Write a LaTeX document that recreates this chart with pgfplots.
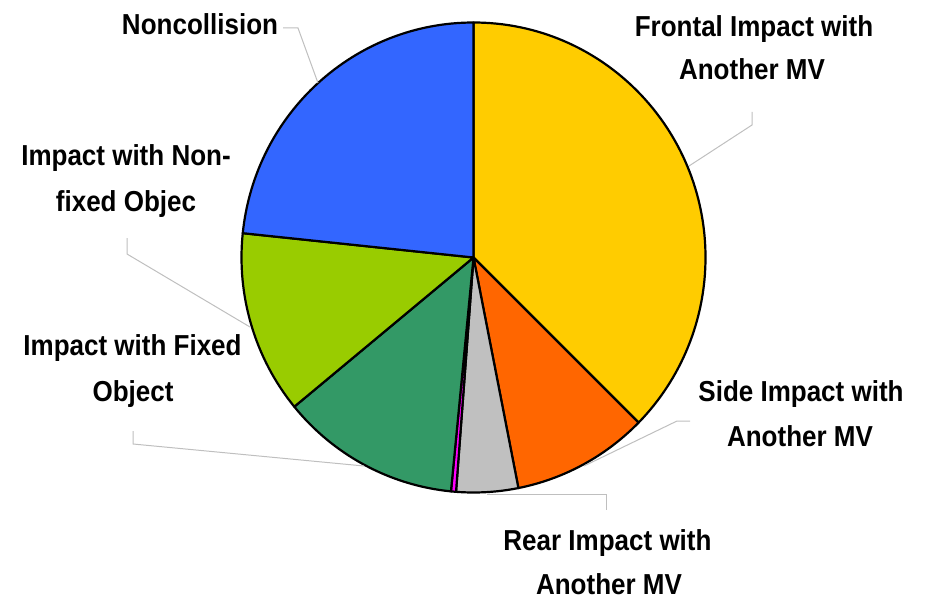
\documentclass[border=0pt]{standalone}
\usepackage{fontspec}
\setmainfont{Liberation Sans}[FakeStretch=0.9]
\usepackage{pgfplots}
\pgfplotsset{compat=1.18}
\usepackage{pgfplotstable}
\definecolor{cFront}{HTML}{FFCC00}
\definecolor{cSide}{HTML}{FF6600}
\definecolor{cRear}{HTML}{C0C0C0}
\definecolor{cOther}{HTML}{FF00FF}
\definecolor{cFixed}{HTML}{339966}
\definecolor{cNonfixed}{HTML}{99CC00}
\definecolor{cNoncoll}{HTML}{3366FF}
\definecolor{leadgray}{HTML}{BFBFBF}
% share of each crash type (percent), clockwise from 12 o'clock
\pgfplotstableread{
share color
37.4  cFront
9.5   cSide
4.3   cRear
0.35  cOther
12.5  cFixed
12.6  cNonfixed
23.35 cNoncoll
}\piedata
\begin{document}
\begin{tikzpicture}[lbl/.style={anchor=base, inner sep=0pt, font=\fontsize{29}{35}\selectfont\bfseries},
  leader/.style={draw=leadgray, line width=1bp}]
\begin{axis}[scale only axis, width=926bp, height=601bp,
  xmin=0, xmax=926, ymin=0, ymax=601, y dir=reverse,
  hide axis, clip=false, at={(0,0)}, anchor=south west]
\pgfplotsextra{
  \path[use as bounding box] (axis cs:0,0) rectangle (axis cs:926,601);
  \gdef\startang{90}
  \pgfplotstablegetrowsof{\piedata}
  \pgfmathtruncatemacro\nrows{\pgfplotsretval-1}
  \foreach \i in {0,...,\nrows}{
    \pgfplotstablegetelem{\i}{share}\of\piedata
    \pgfmathsetmacro\v{\pgfplotsretval}
    \pgfplotstablegetelem{\i}{color}\of\piedata
    \edef\c{\pgfplotsretval}
    \pgfmathsetmacro\endang{\startang-3.6*\v}
    \fill[fill=\c, draw=black, line width=2.2bp, line join=round]
      (axis cs:473.5,257.5) -- ++(\startang:232bp and 235bp)
      arc[start angle=\startang, end angle=\endang, x radius=232bp, y radius=235bp] -- cycle;
    \xdef\startang{\endang}
  }
  % leader lines
  \draw[leader] (axis cs:283,28) -- (axis cs:298,28) -- (axis cs:318,83);
  \draw[leader] (axis cs:752,112) -- (axis cs:752,125) -- (axis cs:689,166);
  \draw[leader] (axis cs:127,238) -- (axis cs:127,254) -- (axis cs:250,327);
  \draw[leader] (axis cs:133,431) -- (axis cs:133,444) -- (axis cs:364,466);
  \draw[leader] (axis cs:690,421) -- (axis cs:677,421) -- (axis cs:584,466);
  \draw[leader] (axis cs:487,494) -- (axis cs:606,494) -- (axis cs:606,510);
  % labels
  \node[lbl] at (axis cs:200,35) {Noncollision};
  \node[lbl] at (axis cs:754,36.5) {Frontal Impact with};
  \node[lbl] at (axis cs:752,80) {Another MV};
  \node[lbl] at (axis cs:126,165) {Impact with Non-};
  \node[lbl] at (axis cs:126,211) {fixed Objec};
  \node[lbl] at (axis cs:132.5,355) {Impact with Fixed};
  \node[lbl] at (axis cs:133,401) {Object};
  \node[lbl] at (axis cs:801,401.5) {Side Impact with};
  \node[lbl] at (axis cs:800,446.5) {Another MV};
  \node[lbl] at (axis cs:607.5,550) {Rear Impact with};
  \node[lbl] at (axis cs:609,594) {Another MV};
}
\end{axis}
\end{tikzpicture}
\end{document}
